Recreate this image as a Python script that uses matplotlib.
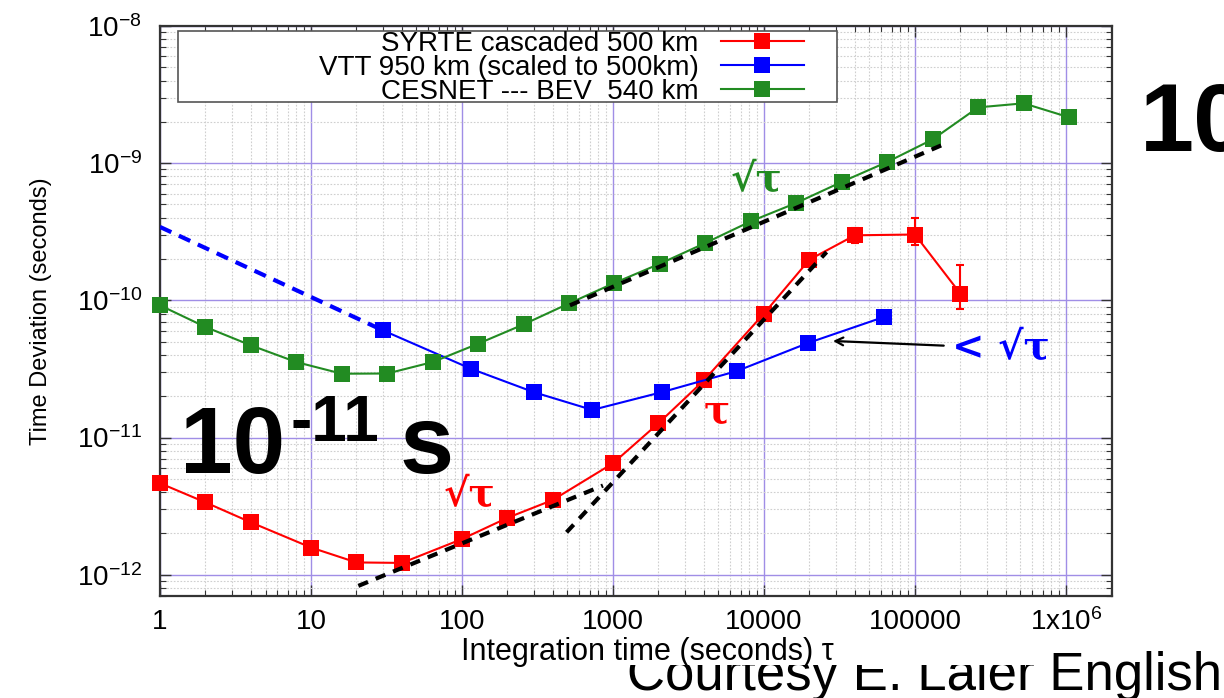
import matplotlib
matplotlib.use("Agg")
import numpy as np
from matplotlib import pyplot as plt
from matplotlib.patches import Rectangle
from matplotlib.ticker import FixedLocator, FixedFormatter, LogLocator, NullFormatter

plt.rcParams['font.family'] = ['Liberation Sans', 'DejaVu Sans']
plt.rcParams['mathtext.fontset'] = 'custom'
plt.rcParams['mathtext.rm'] = 'Liberation Sans'
plt.rcParams['mathtext.it'] = 'Liberation Sans:italic'
plt.rcParams['mathtext.bf'] = 'Liberation Sans:bold'

# SYRTE cascaded link, 500 km
syrte_tau = [1, 2, 4, 10, 20, 40, 100, 200, 400, 1000, 2000, 4000,
             10000, 20000, 40000, 100000, 200000]
syrte_td = [4.65e-12, 3.37e-12, 2.41e-12, 1.58e-12, 1.23e-12, 1.22e-12,
            1.82e-12, 2.60e-12, 3.51e-12, 6.49e-12, 1.27e-11, 2.61e-11,
            8.0e-11, 1.98e-10, 2.98e-10, 3.02e-10, 1.12e-10]
syrte_err_tau = [40000, 100000, 200000]
syrte_err_low = [2.62e-10, 2.55e-10, 8.7e-11]
syrte_err_high = [3.37e-10, 3.99e-10, 1.82e-10]

# VTT 950 km, scaled to 500 km
vtt_tau = [30, 115, 300, 730, 2100, 6600, 19500, 62000]
vtt_td = [6.04e-11, 3.17e-11, 2.14e-11, 1.59e-11, 2.14e-11, 3.05e-11,
          4.88e-11, 7.55e-11]
vtt_ext_tau = [1, 30]
vtt_ext_td = [3.43e-10, 6.04e-11]

# CESNET - BEV, 540 km
cesnet_tau = [1, 2, 4, 8, 16, 32, 64, 128, 256, 512, 1024, 2048, 4096, 8192,
              16384, 32768, 65536, 131072, 262144, 524288, 1048576]
cesnet_td = [9.2e-11, 6.4e-11, 4.7e-11, 3.55e-11, 2.92e-11, 2.93e-11,
             3.55e-11, 4.83e-11, 6.68e-11, 9.5e-11, 1.34e-10, 1.85e-10,
             2.62e-10, 3.77e-10, 5.13e-10, 7.3e-10, 1.02e-9, 1.49e-9,
             2.55e-9, 2.73e-9, 2.16e-9]

# power-law guides
fit_cesnet_tau = [519, 150000]
fit_cesnet_td = [9.2e-11, 1.35e-9]
fit_syrte_sqrt_tau = [20.6, 859]
fit_syrte_sqrt_td = [8.3e-13, 4.47e-12]
fit_syrte_lin_tau = [493, 26000]
fit_syrte_lin_td = [2.04e-12, 2.25e-10]

x_ticks = [1, 10, 100, 1000, 10000, 100000, 1e6]
x_tick_labels = ['1', '10', '100', '1000', '10000', '100000', '1x10$^{6}$']

RED, BLUE, GREEN = '#ff0000', '#0000ff', '#228b22'

fig = plt.figure(figsize=(12.24, 6.98), dpi=100)
ax = fig.add_axes([0.1307, 0.1461, 0.7778, 0.8167])
ax.set_xscale('log')
ax.set_yscale('log')
ax.set_xlim(1, 2.02e6)
ax.set_ylim(7.0e-13, 1e-8)

mk = dict(marker='s', markersize=11, lw=1.5, markeredgewidth=0, clip_on=False)
ax.plot(syrte_tau, syrte_td, color=RED, label='SYRTE cascaded 500 km', zorder=3, **mk)
ax.plot(vtt_tau, vtt_td, color=BLUE, label='VTT 950 km (scaled to 500km)', zorder=3, **mk)
ax.plot(cesnet_tau, cesnet_td, color=GREEN, label='CESNET --- BEV  540 km', zorder=3, **mk)
ax.plot(vtt_ext_tau, vtt_ext_td, color=BLUE, lw=3, ls=(0, (3, 2)), zorder=3)

# error bars on the long SYRTE averages
err_td = [syrte_td[syrte_tau.index(t)] for t in syrte_err_tau]
yerr = [np.subtract(err_td, syrte_err_low), np.subtract(syrte_err_high, err_td)]
ax.errorbar(syrte_err_tau, err_td, yerr=yerr, fmt='none', ecolor=RED,
            elinewidth=1.5, capsize=3, capthick=1.5, zorder=2)

for ft, fv in [(fit_cesnet_tau, fit_cesnet_td),
               (fit_syrte_sqrt_tau, fit_syrte_sqrt_td),
               (fit_syrte_lin_tau, fit_syrte_lin_td)]:
    ax.plot(ft, fv, color='black', lw=3, ls=(0, (2.5, 2)), zorder=4)

# grid and ticks
ax.xaxis.set_major_locator(FixedLocator(x_ticks))
ax.xaxis.set_major_formatter(FixedFormatter(x_tick_labels))
ax.xaxis.set_minor_locator(LogLocator(base=10, subs=np.arange(2, 10), numticks=20))
ax.xaxis.set_minor_formatter(NullFormatter())
ax.yaxis.set_major_locator(LogLocator(base=10, numticks=10))
ax.yaxis.set_minor_locator(LogLocator(base=10, subs=np.arange(2, 10), numticks=20))
ax.yaxis.set_minor_formatter(NullFormatter())
ax.set_axisbelow(True)
ax.grid(which='major', color='#a08ee6', lw=1.0, ls='-')
ax.grid(which='minor', color='#cfcfcf', lw=0.8, ls=(0, (1.5, 1.5)))
ax.tick_params(which='both', direction='in', top=True, right=True, colors='#333333')
ax.tick_params(which='major', length=8, width=1, labelsize=20, labelcolor='black')
ax.tick_params(which='minor', length=4, width=0.8)
ax.tick_params(axis='y', which='major', pad=13)
ax.tick_params(axis='x', which='major', pad=9)
for s in ax.spines.values():
    s.set_linewidth(1.6)
    s.set_color('#333333')

ax.set_xlabel('Integration time (seconds) τ', fontsize=22)
ax.xaxis.set_label_coords(0.512, -0.072)
ax.set_ylabel('Time Deviation (seconds)', fontsize=17)
ax.yaxis.set_label_coords(-0.113, 0.5)

# legend
ax.add_patch(Rectangle((0.0189, 0.8667), 0.6922, 0.1246, transform=ax.transAxes,
                       facecolor='white', edgecolor='#555555', lw=1.2, zorder=5))
leg = ax.legend(loc='upper right', bbox_to_anchor=(0.6912, 1.016), frameon=False,
                markerfirst=False, fontsize=20, borderpad=0, labelspacing=-0.07,
                handlelength=3.0, handletextpad=0.8)
leg.set_zorder(6)

# slope annotations
sq = dict(family='DejaVu Serif', weight='bold', fontsize=28, transform=ax.transAxes,
          ha='center', va='center', zorder=6)
ax.text(0.627, 0.730, '√τ', color=GREEN, **sq)
ax.text(0.3256, 0.1772, '√τ', color=RED, **sq)
ax.text(0.585, 0.3228, 'τ', color=RED, **sq)
ax.annotate('< √τ', xy=(0.7069, 0.4474), xytext=(0.832, 0.435),
            xycoords='axes fraction', textcoords='axes fraction',
            family='DejaVu Serif', weight='bold', fontsize=28, color=BLUE,
            ha='left', va='center', zorder=6,
            arrowprops=dict(arrowstyle='->', color='black', lw=1.6,
                            shrinkA=4, shrinkB=0, mutation_scale=14))

# slide overlay text
big = dict(family='Liberation Sans', weight='bold', color='black',
           va='baseline', ha='left', zorder=10)
fig.text(0.1471, 0.3223, '10', fontsize=68, **big)
fig.text(0.2370, 0.3682, '-11', fontsize=46, **big)
fig.text(0.3268, 0.3223, 's', fontsize=70, **big)
fig.text(0.9314, 0.7837, '10', fontsize=70, **big)

fig.text(0.9984, 0.0115, 'Courtesy E. Laier English', fontsize=38,
         ha='right', va='baseline', color='black', zorder=-2)
fig.patches.append(Rectangle((0, 0.0473), 0.851, 0.10, transform=fig.transFigure,
                             facecolor='white', edgecolor='none', zorder=-1))

fig.savefig('out.png', dpi=100)
